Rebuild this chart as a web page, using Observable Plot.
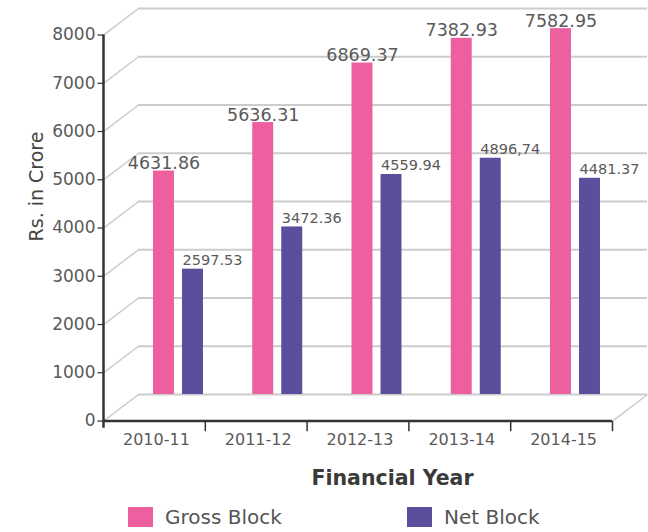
<!DOCTYPE html>
<html><head><meta charset="utf-8">
<script src="https://cdn.jsdelivr.net/npm/d3@7"></script>
<script src="https://cdn.jsdelivr.net/npm/@observablehq/plot@0.6"></script>
<style>
body{margin:0;background:#fff;font-family:"DejaVu Sans",sans-serif;}
#chart{position:relative;width:648px;height:532px;overflow:hidden;}
.legend{position:absolute;top:505px;left:0;width:648px;height:27px;font-size:20px;color:#555;}
.item{position:absolute;top:0;display:flex;align-items:center;}
.sw{width:25px;height:20px;margin-right:12px;}
</style></head><body><div id="chart"></div>
<script>
const years = ["2010-11","2011-12","2012-13","2013-14","2014-15"];
const grossBlock = [4631.86,5636.31,6869.37,7382.93,7582.95];
const netBlock = [2597.53,3472.36,4559.94,4896.74,4481.37];
const grossLabels = ["4631.86","5636.31","6869.37","7382.93","7582.95"];
const netLabels = ["2597.53","3472.36","4559.94","4896,74","4481.37"];
const yTicks = [0,1000,2000,3000,4000,5000,6000,7000,8000];
const seriesNames = ["Gross Block","Net Block"];
const colors = ["#EE5FA0","#5B4F9D"];

// depth of the 3D effect, in data units
const DX = 0.344, DY = 550;
const STEP = 0.975, BW = 0.206;

const bars = years.flatMap((yr,i)=>[
  {series:seriesNames[0], x1: DX+0.147+STEP*i, value: grossBlock[i], label: grossLabels[i]},
  {series:seriesNames[1], x1: DX+0.432+STEP*i, value: netBlock[i], label: netLabels[i]}
]);
const grid = "#cccccc", axisC = "#333", txt = "#5a5a5a";

const chart = Plot.plot({
  width:648, height:500, margin:0,
  x:{domain:[0,5], range:[103,612], axis:null},
  y:{domain:[0,8000], range:[394,8], axis:null},
  color:{domain:seriesNames, range:colors},
  style:{fontFamily:"DejaVu Sans", background:"white"},
  marks:[
    Plot.ruleY(yTicks,{y:d=>d, x1:DX, x2:5+DX, stroke:grid, strokeWidth:1.8}),
    Plot.link(yTicks,{x1:0, y1:d=>d-DY, x2:DX, y2:d=>d, stroke:grid, strokeWidth:1.5}),
    Plot.link([0],{x1:5, y1:-DY, x2:5+DX, y2:0, stroke:grid, strokeWidth:1.5}),
    Plot.rectY(bars,{x1:"x1", x2:d=>d.x1+BW, y1:0, y2:"value", fill:"series"}),
    Plot.ruleX([0],{x:0, y1:-DY-150, y2:8000-DY, stroke:axisC, strokeWidth:2.5}),
    Plot.ruleY([-DY],{y:d=>d, x1:0, x2:5, stroke:axisC, strokeWidth:2.5}),
    Plot.link(yTicks,{x1:-0.06, x2:0, y1:d=>d-DY, y2:d=>d-DY, stroke:axisC, strokeWidth:1.2}),
    Plot.link([1,2,3,4,5],{x1:d=>d, x2:d=>d, y1:-DY, y2:-DY-210, stroke:axisC, strokeWidth:1.5}),
    Plot.text(yTicks,{x:0, y:d=>d-DY, text:d=>String(d), textAnchor:"end", dx:-8, fontSize:17, fill:txt}),
    Plot.text(years,{x:(d,i)=>i+0.5, y:-DY, text:d=>d, dy:19, dx:2, fontSize:16, fill:txt}),
    Plot.text(bars.filter(b=>b.series===seriesNames[0]),{x:d=>d.x1+BW/2, y:"value", text:"label", lineAnchor:"bottom", dy:-2, fontSize:17.5, fill:txt}),
    Plot.text(bars.filter(b=>b.series===seriesNames[1]),{x:"x1", y:"value", text:"label", lineAnchor:"bottom", textAnchor:"start", dy:-4, fontSize:14.5, fill:txt}),
    Plot.text(["Financial Year"],{frameAnchor:"top-left", dx:392, dy:470, text:d=>d, textAnchor:"middle", fontSize:20.5, fontWeight:"bold", fill:"#3a3a3a"}),
    Plot.text(["Rs. in Crore"],{frameAnchor:"top-left", dx:29, dy:186, text:d=>d, textAnchor:"middle", rotate:-90, fontSize:19, fill:"#444"})
  ]
});
const root = document.getElementById("chart");
root.appendChild(chart);
const leg = document.createElement("div");
leg.className = "legend";
const lefts = [128, 407];
seriesNames.forEach((s,i)=>{
  const it = document.createElement("div");
  it.className = "item"; it.style.left = lefts[i]+"px";
  const sw = document.createElement("span"); sw.className="sw"; sw.style.background = colors[i];
  const t = document.createElement("span"); t.textContent = s;
  it.appendChild(sw); it.appendChild(t); leg.appendChild(it);
});
root.appendChild(leg);
</script></body></html>
